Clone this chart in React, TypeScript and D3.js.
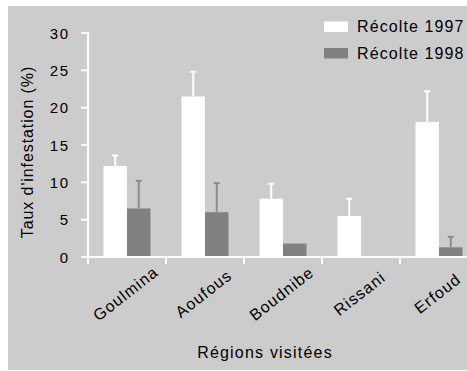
import * as d3 from "d3";

// regions and infestation rates (%)
const regions = ["Goulmina", "Aoufous", "Boudnibe", "Rissani", "Erfoud"];
const seriesNames = ["Récolte 1997", "Récolte 1998"];
const rate1997 = [12.2, 21.5, 7.8, 5.5, 18.1];
const rate1998 = [6.5, 6.0, 1.8, 0, 1.3];
// top of the error bars
const err1997 = [13.6, 24.8, 9.8, 7.8, 22.2];
const err1998 = [10.2, 9.9, null, null, 2.7];
const yTicks = [0, 5, 10, 15, 20, 25, 30];

const width = 467;
const height = 371;
const font = "Arial, 'Liberation Sans', sans-serif";

const App = () => {
    const x0 = d3.scaleBand<string>().domain(regions).range([88, 478]);
    const x1 = d3.scaleBand<string>()
        .domain(seriesNames)
        .range([0, x0.bandwidth()])
        .paddingOuter(0.66);
    const y = d3.scaleLinear().domain([0, 30]).range([257, 33]);

    const fills = ["#ffffff", "#808080"];
    const errColors = ["#ffffff", "#8c8c8c"];
    const values = [rate1997, rate1998];
    const errs = [err1997, err1998];

    return (
        <svg width={width} height={height}
            style={{ position: "absolute", left: 0, top: 0 }}
            fontFamily={font}>
            <rect x={8} y={6} width={459} height={364} fill="#cccccc" />

            {/* bars */}
            {seriesNames.map((s, si) => (
                <g key={s}>
                    {regions.map((r, i) => {
                        const v = values[si][i];
                        if (!v) return null;
                        const bx = x0(r)! + x1(s)!;
                        return (
                            <rect key={r} x={bx} y={y(v)} width={x1.bandwidth()}
                                height={y(0) - y(v)} fill={fills[si]} />
                        );
                    })}
                </g>
            ))}

            {/* error bars, upper side only */}
            {seriesNames.map((s, si) => (
                <g key={s + "err"} stroke={errColors[si]} strokeWidth={2}>
                    {regions.map((r, i) => {
                        const e = errs[si][i];
                        if (e == null) return null;
                        const cx = x0(r)! + x1(s)! + x1.bandwidth() / 2;
                        return (
                            <g key={r}>
                                <line x1={cx} x2={cx} y1={y(values[si][i])} y2={y(e)} />
                                <line x1={cx - 3} x2={cx + 3} y1={y(e)} y2={y(e)} />
                            </g>
                        );
                    })}
                </g>
            ))}

            {/* y axis */}
            <g stroke="#ffffff" strokeWidth={2}>
                <line x1={88} x2={88} y1={y(30) - 1} y2={264} />
                {yTicks.map(t => (
                    <line key={t} x1={81} x2={88} y1={y(t)} y2={y(t)} />
                ))}
            </g>
            {yTicks.map(t => (
                <text key={t} x={69.5} y={y(t) + 5.5} textAnchor="end" fontSize={15}
                    letterSpacing={1.5} fill="#000">
                    {t}
                </text>
            ))}

            {/* x axis */}
            <g stroke="#ffffff" strokeWidth={2}>
                <line x1={88} x2={467} y1={y(0)} y2={y(0)} />
                {regions.map(r => (
                    <line key={r} x1={x0(r)!} x2={x0(r)!} y1={y(0)} y2={264} />
                ))}
            </g>
            {/* category labels, centred under each group and tilted */}
            {regions.map(r => {
                const cx = x0(r)! + x0.bandwidth() / 2 + 2;
                return (
                    <text key={r} transform={`translate(${cx},298) rotate(-38)`}
                        textAnchor="middle" fontSize={16} letterSpacing={1.1} fill="#000">
                        {r}
                    </text>
                );
            })}

            {/* axis titles */}
            <text x={265} y={358} textAnchor="middle" fontSize={16} letterSpacing={1.2} fill="#000">
                Régions visitées
            </text>
            <text transform="translate(33,152) rotate(-90)" textAnchor="middle" fontSize={16}
                letterSpacing={0.9} fill="#000">
                Taux d'infestation (%)
            </text>

            {/* legend */}
            {seriesNames.map((s, si) => (
                <g key={s} transform={`translate(324,${21.5 + si * 26.5})`}>
                    <rect width={24} height={10.5} fill={fills[si]} />
                    <text x={33} y={10.5} fontSize={16} letterSpacing={1.1} fill="#000">{s}</text>
                </g>
            ))}
        </svg>
    );
};

export default App;
